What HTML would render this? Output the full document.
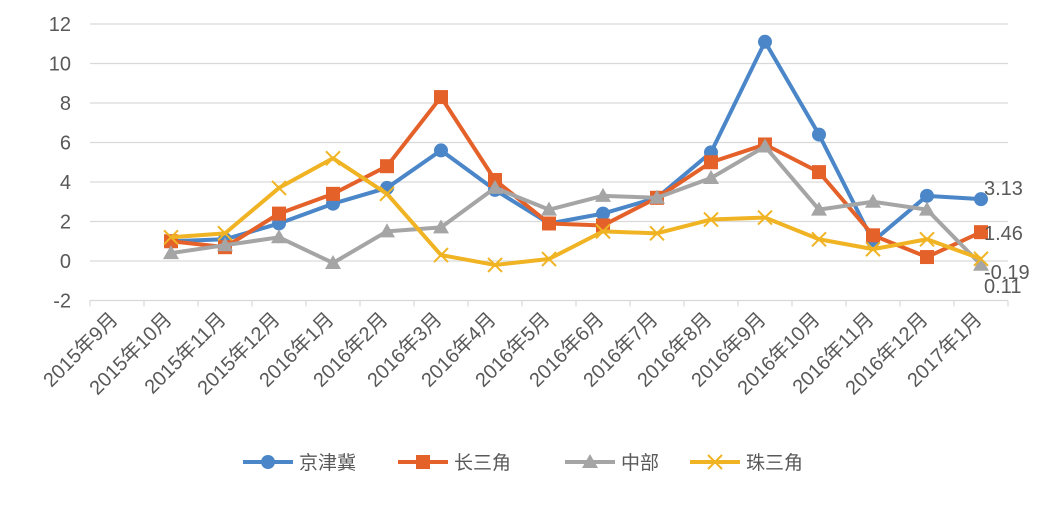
<!DOCTYPE html>
<html><head><meta charset="utf-8"><style>
body{margin:0;background:#fff;}
svg text{font-family:"Liberation Sans","Noto Sans CJK SC",sans-serif;fill:#595959;}
</style></head><body>
<svg width="1050" height="527" id="chart"></svg>
<script>
const categories=["2015年9月","2015年10月","2015年11月","2015年12月","2016年1月","2016年2月","2016年3月","2016年4月","2016年5月","2016年6月","2016年7月","2016年8月","2016年9月","2016年10月","2016年11月","2016年12月","2017年1月"];
const yTicks=[-2,0,2,4,6,8,10,12];
const seriesNames=["京津冀","长三角","中部","珠三角"];
const jjj=[null,1.0,1.1,1.9,2.9,3.7,5.6,3.6,1.9,2.4,3.2,5.5,11.1,6.4,1.0,3.3,3.13];
const csj=[null,1.0,0.7,2.4,3.4,4.8,8.3,4.1,1.9,1.8,3.2,5.0,5.9,4.5,1.3,0.2,1.46];
const zb=[null,0.4,0.8,1.2,-0.1,1.5,1.7,3.7,2.6,3.3,3.2,4.2,5.8,2.6,3.0,2.6,-0.19];
const zsj=[null,1.2,1.4,3.7,5.2,3.4,0.3,-0.2,0.1,1.5,1.4,2.1,2.2,1.1,0.6,1.1,0.11];
const lastLabels=["3.13","1.46","-0.19","0.11"];
const colors=["#4a86c8","#e5612a","#a5a5a5","#f0b323"];
const svg=document.getElementById('chart');
const NS="http://www.w3.org/2000/svg";
const x0=90,band=54,y0=261,ppu=19.75;
const X=i=>x0+band*(i+0.5);
const Y=v=>y0-v*ppu;
function mk(t,a,p){const e=document.createElementNS(NS,t);for(const k in a)e.setAttribute(k,a[k]);(p||svg).appendChild(e);return e;}
yTicks.forEach(v=>{
  const g=mk('line',{x1:x0,x2:x0+band*categories.length,y1:Y(v),y2:Y(v),stroke:'#d9d9d9','stroke-width':1.2});
  
  
  const t=mk('text',{x:71,y:Y(v)+7,'text-anchor':'end','font-size':20});
  t.textContent=v;
  
  
});
for(let i=0;i<=categories.length;i++){
  const tk=mk('line',{x1:x0+band*i,x2:x0+band*i,y1:Y(-2),y2:Y(-2)+6,stroke:'#d9d9d9','stroke-width':1.2});
  
  
}
categories.forEach((c,i)=>{
  const ax=X(i)+2, ay=Y(-2)+20;
  const t=mk('text',{x:ax,y:ay,'text-anchor':'end','font-size':20,transform:`rotate(-45 ${ax} ${ay})`});
  t.textContent=c;
  
  
});
const all=[jjj,csj,zb,zsj];
function marker(k,x,y,p){
  const c=colors[k];
  let m;
  if(k===0)m=mk('circle',{cx:x,cy:y,r:7,fill:c},p);
  else if(k===1)m=mk('rect',{x:x-7,y:y-7,width:14,height:14,fill:c},p);
  else if(k===2)m=mk('polygon',{points:`${x},${y-8} ${x+8},${y+6} ${x-8},${y+6}`,fill:c},p);
  else m=mk('path',{d:`M${x-7},${y-7}L${x+7},${y+7}M${x+7},${y-7}L${x-7},${y+7}`,stroke:c,'stroke-width':2},p);
  
  
}
all.forEach((s,k)=>{
  const g=mk('g',{});
  
  
  let d='';
  s.forEach((v,i)=>{if(v!==null)d+=(d?'L':'M')+X(i)+','+Y(v);});
  const p=mk('path',{d:d,fill:'none',stroke:colors[k],'stroke-width':4,'stroke-linejoin':'round'},g);
  
  
  s.forEach((v,i)=>{if(v!==null)marker(k,X(i),Y(v),g);});
});
lastLabels.forEach((l,k)=>{
  const n=categories.length-1;
  const t=mk('text',{x:X(n)+3,y:Y(all[k][n])+[-4,8,14,34][k],'font-size':20});
  t.textContent=l;
  
  
});
const lx=[243,398,565,690];
seriesNames.forEach((n,k)=>{
  const g=mk('g',{});
  
  
  mk('line',{x1:lx[k],x2:lx[k]+50,y1:462,y2:462,stroke:colors[k],'stroke-width':4},g);
  marker(k,lx[k]+25,462,g);
  const t=mk('text',{x:lx[k]+56,y:469,'font-size':19},g);
  t.textContent=n;
});
</script>
</body></html>
